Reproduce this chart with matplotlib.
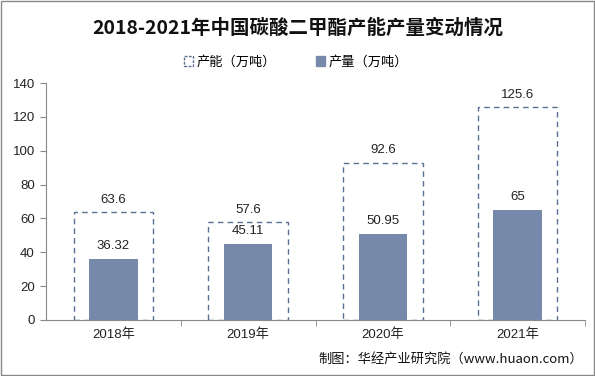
import matplotlib
matplotlib.use("Agg")
import matplotlib.pyplot as plt
from matplotlib.patches import Rectangle

plt.rcParams['font.family'] = ['Liberation Sans', 'Noto Sans CJK SC', 'DejaVu Sans']

years = ['2018年', '2019年', '2020年', '2021年']
capacity = [63.6, 57.6, 92.6, 125.6]
production = [36.32, 45.11, 50.95, 65]
cap_labels = ['63.6', '57.6', '92.6', '125.6']
prod_labels = ['36.32', '45.11', '50.95', '65']

bar_color = '#7789aa'
edge_color = '#5b6e93'

fig = plt.figure(figsize=(5.95, 3.76), dpi=100)
ax = fig.add_axes([46/595, 1-320/376, (585-46)/595, (320-83)/376])

x = list(range(len(years)))
ax.bar(x, capacity, width=0.59, fill=False, edgecolor=edge_color, linestyle=(0, (4, 3)), linewidth=1.0, zorder=2)
ax.bar(x, production, width=0.36, color=bar_color, zorder=3)

for xi, c, cl in zip(x, capacity, cap_labels):
    ax.text(xi, c + 4, cl, ha='center', va='bottom', fontsize=9.5, color='#222222')
for xi, p, pl in zip(x, production, prod_labels):
    ax.text(xi, p + 4, pl, ha='center', va='bottom', fontsize=9.5, color='#222222')

ax.set_xlim(-0.5, 3.5)
ax.set_ylim(0, 140)
ax.set_yticks(range(0, 141, 20))
ax.set_xticks(x)
ax.set_xticklabels(years, fontsize=9.5, color='#222222')
ax.set_xticks([0.5, 1.5, 2.5, 3.5], minor=True)
ax.tick_params(axis='x', which='major', length=0, pad=6)
ax.tick_params(axis='x', which='minor', length=4, color='#888888')
ax.tick_params(axis='y', length=4, color='#888888', labelsize=9.5, labelcolor='#222222', pad=4)
for s in ['top', 'right']:
    ax.spines[s].set_visible(False)
ax.spines['left'].set_color('#888888')
ax.spines['bottom'].set_color('#888888')

fig.text(0.5, 1-28/376, '2018-2021年中国碳酸二甲酯产能产量变动情况', ha='center', va='center',
         fontsize=14, fontweight='bold', family=['Noto Sans CJK SC'], color='#111111')

handles = [
    Rectangle((0, 0), 1, 1, fill=False, edgecolor=edge_color, linestyle=(0, (2, 1)), linewidth=1.0),
    Rectangle((0, 0), 1, 1, color=bar_color),
]
fig.legend(handles, ['产能（万吨）', '产量（万吨）'], loc='center', bbox_to_anchor=(296/595, 1-62/376),
           ncol=2, frameon=False, handlelength=0.7, handleheight=0.7, columnspacing=3.0,
           handletextpad=0.3, prop={'family': ['Noto Sans CJK SC'], 'size': 9.5})

fig.text(583/595, 1-359/376, '制图：华经产业研究院（www.huaon.com）', ha='right', va='center',
         fontsize=9.5, color='#111111', family=['Noto Sans CJK SC', 'DejaVu Sans'])

border = Rectangle((1/595, 1/376), 593/595, 374/376, transform=fig.transFigure, fill=False,
                   edgecolor='#888888', linewidth=1.0)
fig.patches.append(border)

fig.savefig('out.png', dpi=100)
